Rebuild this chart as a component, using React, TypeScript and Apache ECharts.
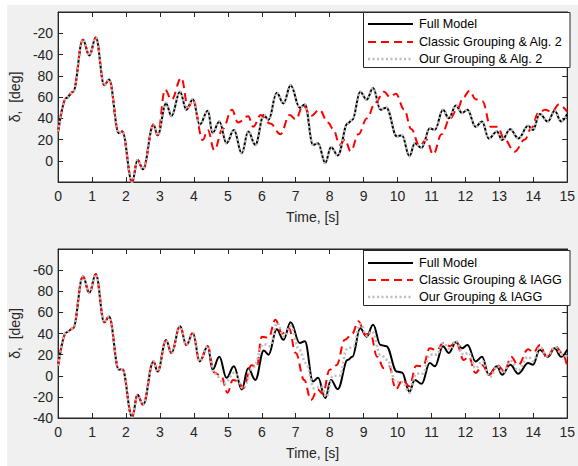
import React, { useEffect, useRef } from "react";
import * as echarts from "echarts";

// ---------- DATA ----------
const xTicks = [0, 1, 2, 3, 4, 5, 6, 7, 8, 9, 10, 11, 12, 13, 14, 15];
const topYTickLabels: Record<number, string> = { 0: "0", 20: "20", 40: "40", 60: "60", 80: "80", 100: "-40", 120: "-20" };
const botYTickLabels: Record<number, string> = { "-40": "-40", "-20": "-20", 0: "0", 20: "20", 40: "40", 60: "60", 80: "80", 100: "-60" } as any;

// Top panel: Full model (and Our Grouping & Alg. 2, which overlaps it)
const topFullT = [0, 0.24, 0.44, 0.73, 0.92, 1.11, 1.36, 1.5, 1.79, 1.89, 2.18, 2.34, 2.5, 2.81, 2.93, 3.18, 3.34, 3.59, 3.78, 3.97, 4.17, 4.41, 4.55, 4.75, 4.96, 5.18, 5.41, 5.6, 5.81, 6.06, 6.2, 6.44, 6.64, 6.85, 7.12, 7.27, 7.51, 7.66, 7.87, 8.04, 8.24, 8.53, 8.67, 8.9, 9.09, 9.28, 9.5, 9.67, 9.98, 10.13, 10.35, 10.51, 10.71, 10.95, 11.1, 11.34, 11.51, 11.72, 11.9, 12.06, 12.3, 12.49, 12.69, 12.93, 13.08, 13.32, 13.56, 13.85, 13.99, 14.19, 14.43, 14.63, 14.82, 15];
const topFullV = [27.5, 59, 65, 114, 99, 116, 71, 76.5, 26, 27.5, -20, 0.6, -8, 34, 24, 54, 42, 65, 48, 58, 34, 47, 26, 37, 16.5, 29, 7, 27.5, 15, 43, 38.5, 64, 54, 71, 50, 53, 15, 16.5, -2, 13, 5, 35, 38.5, 65, 57.5, 68.5, 48, 50, 23, 24, 4.4, 16.5, 12, 30.6, 29, 48, 40, 52, 45, 48, 32, 37, 21, 27.5, 19.6, 29.7, 21, 33, 29, 44, 37, 47, 37, 44];
const topOurV = [27.5, 59, 65, 114, 99, 116, 71, 76.5, 26, 27.5, -20, 0.6, -8, 34, 24, 54.5, 42.5, 65, 48, 58, 34, 47, 26, 37, 16.5, 29, 7, 27.5, 15, 43, 38.5, 64, 54, 71, 50, 53, 15, 16.5, -2, 13, 5, 35, 38.5, 65, 57.5, 68.5, 48, 50, 23, 24, 4.4, 16.5, 12, 30.6, 29, 48, 40, 52, 45, 48, 32, 37, 21, 27.5, 19.6, 29.7, 21, 33, 29, 44, 37, 47, 37, 44];
// Top panel: Classic Grouping & Alg. 2
const topClassicT = [0, 0.24, 0.44, 0.73, 0.92, 1.11, 1.36, 1.5, 1.79, 1.89, 2.18, 2.34, 2.5, 2.81, 2.93, 3.15, 3.34, 3.63, 3.83, 3.97, 4.26, 4.41, 4.6, 4.85, 5.12, 5.3, 5.6, 5.75, 5.97, 6.25, 6.55, 6.82, 7.0, 7.22, 7.45, 7.7, 7.95, 8.1, 8.3, 8.45, 8.62, 8.85, 9.1, 9.35, 9.6, 9.78, 9.95, 10.2, 10.4, 10.65, 10.85, 11.05, 11.3, 11.55, 11.75, 11.95, 12.12, 12.3, 12.5, 12.75, 12.95, 13.15, 13.45, 13.75, 13.95, 14.15, 14.35, 14.55, 14.75, 15];
const topClassicV = [27.5, 59, 65, 114, 99, 116, 71, 76.5, 26, 27.5, -20, 0.6, -8, 34, 24, 67, 57.5, 78, 50, 57.5, 19.6, 29, 10, 30, 48, 36, 42, 32, 43, 35, 25, 43, 39, 52, 42, 48, 36, 30, 15, 20, 9, 25, 40, 55, 65, 60, 63, 48, 30, 14, 20, 6, 25, 40, 48, 60, 66, 58, 56, 32, 32, 20, 8.5, 20, 31, 45, 48, 46, 53, 46];

// Bottom panel: Full model
const botFullT = topFullT;
const botFullV = [9.5, 41, 45, 94, 78.5, 96, 50.6, 56, 5.7, 6.3, -39, -18, -27.5, 13.6, 4, 33.5, 21.5, 47, 29, 40.5, 13.6, 28, 5.7, 18, -2, 9, -13, 7, -4, 24, 20, 44, 34, 50.6, 31, 32.6, -5.4, -2, -21, -4, -12.7, 15, 18, 45, 37, 48.4, 29, 28, 4, 3, -15, -4, -7.6, 12, 9, 28, 21.5, 31.6, 26, 29, 13.6, 18, 1, 9, 1, 10.4, 2, 12, 10.4, 24.7, 18, 26, 18, 24.7];
// Bottom panel: Classic Grouping & IAGG
const botClassicT = [0, 0.24, 0.44, 0.73, 0.92, 1.11, 1.36, 1.5, 1.79, 1.89, 2.18, 2.34, 2.5, 2.81, 2.93, 3.18, 3.34, 3.59, 3.78, 3.97, 4.17, 4.41, 4.6, 4.8, 4.99, 5.15, 5.3, 5.45, 5.7, 5.85, 6.0, 6.2, 6.4, 6.6, 6.8, 7.0, 7.25, 7.45, 7.65, 7.8, 8.0, 8.2, 8.45, 8.65, 8.85, 9.05, 9.2, 9.4, 9.6, 9.75, 9.95, 10.15, 10.35, 10.55, 10.75, 10.95, 11.15, 11.35, 11.55, 11.72, 11.95, 12.1, 12.3, 12.5, 12.7, 12.95, 13.15, 13.35, 13.55, 13.85, 14.0, 14.2, 14.4, 14.65, 14.85, 15];
const botClassicV = [9.5, 41, 45, 94, 78.5, 96, 50.6, 56, 5.7, 6.3, -39, -18, -27.5, 13.6, 4, 33.5, 21.5, 47, 29, 40.5, 13.6, 28, 3, 0, -16, -4, -5, -12, 10, 8, 37, 36, 53, 40, 45, 21.5, -4, -23, -13, -17, 5.7, 10, 34, 39, 51.6, 39, 40, 18, 7, 9, -12.7, -4, -10, 9.5, 9, 26, 24, 31, 28, 32.6, 15, 18, 2.5, 10, 1, 10, 4, 18, 10, 25, 22, 29, 17, 28, 21.5, 9];
// Bottom panel: Our Grouping & IAGG
const botOurT = [0, 0.24, 0.44, 0.73, 0.92, 1.11, 1.36, 1.5, 1.79, 1.89, 2.18, 2.34, 2.5, 2.81, 2.93, 3.18, 3.34, 3.59, 3.78, 3.97, 4.17, 4.41, 4.6, 4.9, 5.2, 5.45, 5.75, 6.05, 6.25, 6.45, 6.65, 6.85, 7.1, 7.3, 7.55, 7.75, 7.9, 8.1, 8.3, 8.5, 8.7, 8.9, 9.1, 9.25, 9.5, 9.7, 9.95, 10.15, 10.35, 10.55, 10.75, 10.95, 11.15, 11.35, 11.55, 11.72, 11.95, 12.1, 12.3, 12.5, 12.72, 12.95, 13.1, 13.35, 13.55, 13.85, 14.0, 14.2, 14.4, 14.65, 14.85, 15];
const botOurV = [9.5, 41, 45, 94, 78.5, 96, 50.6, 56, 5.7, 6.3, -39, -18, -27.5, 13.6, 4, 33.5, 21.5, 47, 29, 40.5, 13.6, 28, 2, -7, 3, -12, 8, 30, 28, 50, 37, 47, 25, 12, -12, -10, -20, 0, 0, 25, 28, 49, 38, 42, 20, 15, -6, -6, -16, 2, 2, 20, 20, 31, 25, 33, 20, 22, 7, 14, -1, 9, 3, 14, 5, 18, 14, 27, 19, 27, 20, 18];

const legendTop = ["Full Model", "Classic Grouping & Alg. 2", "Our Grouping & Alg. 2"];
const legendBot = ["Full Model", "Classic Grouping & IAGG", "Our Grouping & IAGG"];
const yName = "δ,  [deg]";

// ---------- STYLE ----------
const FONT = "Liberation Sans";
const AX = "#262626";
const RED = "#ff0000";
const GRAY = "#bdbdbd";

const pairs = (t: number[], v: number[]) => t.map((x, i) => [x, v[i]]);

export default function App() {
  const ref = useRef<HTMLDivElement>(null);
  useEffect(() => {
    if (!ref.current) return;
    const chart = echarts.init(ref.current, null, { renderer: "svg" });

    const grids = [
      { left: 54, top: 12, width: 516, height: 170 },
      { left: 54, top: 249, width: 516, height: 169 },
    ];

    const tick = { show: true, inside: true, length: 5, lineStyle: { color: AX, width: 1 } };
    const line = { show: true, onZero: false, lineStyle: { color: AX, width: 1 } };

    const xAxes: any[] = [];
    const yAxes: any[] = [];
    [0, 1].forEach((g) => {
      xAxes.push({
        type: "value", gridIndex: g, min: 0, max: 15, interval: 1, position: "bottom",
        axisLine: line, axisTick: tick, splitLine: { show: false },
        axisLabel: { color: AX, fontFamily: FONT, fontSize: 14, margin: 7, formatter: (v: number) => (xTicks.includes(v) ? String(v) : "") },
        name: "Time, [s]", nameLocation: "middle", nameGap: 28,
        nameTextStyle: { color: AX, fontFamily: FONT, fontSize: 14 },
      });
      xAxes.push({
        type: "value", gridIndex: g, min: 0, max: 15, interval: 1, position: "top",
        axisLine: line, axisTick: tick, splitLine: { show: false }, axisLabel: { show: false },
      });
      const map = g === 0 ? topYTickLabels : botYTickLabels;
      yAxes.push({
        type: "value", gridIndex: g, min: g === 0 ? -20 : -40, max: g === 0 ? 140 : 120, interval: 20, position: "left",
        axisLine: line, axisTick: tick, splitLine: { show: false },
        axisLabel: { color: AX, fontFamily: FONT, fontSize: 14, margin: 5, formatter: (v: number) => (map as any)[v] ?? "" },
        name: yName, nameLocation: "middle", nameGap: 25,
        nameTextStyle: { color: AX, fontFamily: FONT, fontSize: 14 },
      });
      yAxes.push({
        type: "value", gridIndex: g, min: g === 0 ? -20 : -40, max: g === 0 ? 140 : 120, interval: 20, position: "right",
        axisLine: line, axisTick: tick, splitLine: { show: false }, axisLabel: { show: false },
      });
    });

    const mk = (data: number[][], ax: number, kind: "full" | "classic" | "our") => ({
      type: "line", xAxisIndex: ax, yAxisIndex: ax, data, showSymbol: false, smooth: 0.4, smoothMonotone: "x",
      lineStyle:
        kind === "full"
          ? { color: "#000", width: 2 }
          : kind === "classic"
          ? { color: RED, width: 2, type: [8, 5] }
          : { color: GRAY, width: 2.6, type: [2, 2.5] },
      itemStyle: { color: kind === "full" ? "#000" : kind === "classic" ? RED : GRAY },
      z: kind === "full" ? 2 : kind === "classic" ? 3 : 4,
    });

    const series = [
      mk(pairs(topFullT, topFullV), 0, "full"),
      mk(pairs(topClassicT, topClassicV), 0, "classic"),
      mk(pairs(topFullT, topOurV), 0, "our"),
      mk(pairs(botFullT, botFullV), 2, "full"),
      mk(pairs(botClassicT, botClassicV), 2, "classic"),
      mk(pairs(botOurT, botOurV), 2, "our"),
    ];

    const legendGraphic = (top: number, labels: string[], rows: number[]) => {
      const els: any[] = [
        { type: "rect", shape: { x: 363.5, y: top + 0.5, width: 206.5, height: 55 }, style: { fill: "#fff", stroke: AX, lineWidth: 1 }, z: 100 },
      ];
      const styles = [
        { stroke: "#000", lineWidth: 2 },
        { stroke: RED, lineWidth: 2, lineDash: [8, 5] },
        { stroke: GRAY, lineWidth: 2.6, lineDash: [2, 2.5] },
      ];
      labels.forEach((lab, i) => {
        els.push({ type: "line", shape: { x1: 368, y1: rows[i], x2: 413, y2: rows[i] }, style: styles[i], z: 101 });
        els.push({ type: "text", x: 419, y: rows[i], style: { text: lab, fill: "#000", font: `12.6px "${FONT}"`, verticalAlign: "middle" }, z: 101 });
      });
      return els;
    };

    chart.setOption({
      animation: false,
      grid: grids.map((g) => ({ ...g, show: true, backgroundColor: "#fff", borderColor: AX, borderWidth: 1 })),
      xAxis: xAxes,
      yAxis: yAxes,
      series,
      graphic: [...legendGraphic(12, legendTop, [24, 42, 59]), ...legendGraphic(250, legendBot, [263, 280, 297])],
    });
    return () => chart.dispose();
  }, []);

  return (
    <div style={{ position: "fixed", left: 0, top: 0, width: 578, height: 466, background: "#fff" }}>
      <div style={{ position: "absolute", left: 7, top: 5, right: 0, bottom: 0, background: "#f0f0f0" }} />
      <div ref={ref} style={{ position: "absolute", left: 0, top: 0, width: 578, height: 466 }} />
    </div>
  );
}
